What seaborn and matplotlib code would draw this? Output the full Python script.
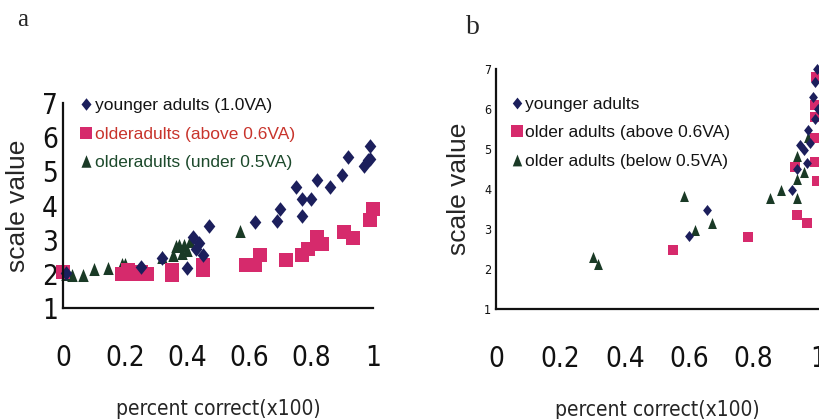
import pandas as pd
import matplotlib.pyplot as plt
import seaborn as sns
from matplotlib import font_manager
from matplotlib.font_manager import FontProperties
from matplotlib.lines import Line2D

# panel a
a_young_x = [0.01, 0.25, 0.32, 0.40, 0.42, 0.43, 0.44, 0.45, 0.47, 0.62, 0.69, 0.70,
             0.75, 0.77, 0.77, 0.80, 0.82, 0.86, 0.90, 0.92, 0.97, 0.985, 0.99, 0.99]
a_young_y = [2.03, 2.2, 2.45, 2.17, 3.08, 2.72, 2.89, 2.55, 3.41, 3.52, 3.55, 3.9,
             4.55, 4.2, 3.7, 4.2, 4.74, 4.55, 4.9, 5.42, 5.15, 5.33, 5.75, 5.37]
a_hi_x = [0.0, 0.19, 0.21, 0.23, 0.25, 0.27, 0.35, 0.35, 0.45, 0.45, 0.59, 0.62, 0.635,
          0.72, 0.77, 0.79, 0.82, 0.835, 0.905, 0.935, 0.99, 1.0]
a_hi_y = [2.05, 2.0, 2.1, 2.0, 2.05, 2.0, 1.98, 2.12, 2.12, 2.27, 2.25, 2.25, 2.55,
          2.4, 2.55, 2.72, 3.08, 2.86, 3.23, 3.04, 3.57, 3.9]
a_lo_x = [0.01, 0.03, 0.065, 0.10, 0.145, 0.19, 0.20, 0.32, 0.355, 0.365, 0.375,
          0.385, 0.39, 0.40, 0.41, 0.57]
a_lo_y = [2.0, 1.98, 1.98, 2.15, 2.17, 2.3, 2.3, 2.5, 2.55, 2.8, 2.85, 2.6, 2.85,
          2.7, 2.95, 3.25]

# panel b
b_young_x = [0.60, 0.655, 0.918, 0.934, 0.944, 0.955, 0.965, 0.97, 0.975, 0.985,
             0.99, 0.99, 0.996, 0.999]
b_young_y = [2.82, 3.47, 3.98, 4.5, 5.1, 4.98, 4.64, 5.48, 5.15, 6.3, 5.75, 6.68,
             7.0, 6.0]
b_hi_x = [0.55, 0.784, 0.934, 0.967, 0.93, 0.99, 0.996, 0.99, 0.99, 0.995, 0.99]
b_hi_y = [2.47, 2.81, 3.35, 3.16, 4.56, 4.68, 4.2, 5.27, 6.1, 6.8, 5.8]
b_lo_x = [0.30, 0.318, 0.585, 0.618, 0.67, 0.851, 0.884, 0.934, 0.936, 0.934,
          0.955, 0.97]
b_lo_y = [2.3, 2.13, 3.83, 2.98, 3.16, 3.78, 3.97, 3.78, 4.82, 4.25, 4.43, 5.3]

groups_a = ['younger adults (1.0VA)', 'olderadults (above 0.6VA)', 'olderadults (under 0.5VA)']
groups_b = ['younger adults', 'older adults (above 0.6VA)', 'older adults (below 0.5VA)']
text_colors_a = ['#141414', '#c8342c', '#1d4a2c']
text_colors_b = ['#141414', '#141414', '#141414']

x_ticks = [0, 0.2, 0.4, 0.6, 0.8, 1]
x_ticklabels = ['0', '0.2', '0.4', '0.6', '0.8', '1']
y_ticks = [1, 2, 3, 4, 5, 6, 7]

colors = ['#1c1f5c', '#d62a6c', '#1a3a26']
diamond = [(0, 1), (0.8, 0), (0, -1), (-0.8, 0), (0, 1)]
triangle = [(0, 1), (0.8, -1), (-0.8, -1), (0, 1)]
markers = [diamond, 's', triangle]

sns.set_style('white')
plt.rcParams['font.family'] = ['Liberation Sans', 'DejaVu Sans']

# the scan uses a tall condensed face for the numbers; take one if installed
cond_file = None
for f in font_manager.fontManager.ttflist:
    squeezed = ('Narrow' in f.name or 'Condensed' in f.name
                or str(f.stretch) in ('condensed', 'semi-condensed', 'extra-condensed'))
    if squeezed and f.style == 'normal' and f.weight in (400, 'normal', 'regular'):
        cond_file = f.fname
        break


def cond(size):
    if cond_file:
        return FontProperties(fname=cond_file, size=size)
    return FontProperties(family='DejaVu Sans', size=size * 0.8)


def make_df(groups, *cols):
    parts = []
    for g, xs, ys in zip(groups, cols[0::2], cols[1::2]):
        parts.append(pd.DataFrame({'x': xs, 'y': ys, 'group': g}))
    return pd.concat(parts, ignore_index=True)


df_a = make_df(groups_a, a_young_x, a_young_y, a_hi_x, a_hi_y, a_lo_x, a_lo_y)
df_b = make_df(groups_b, b_young_x, b_young_y, b_hi_x, b_hi_y, b_lo_x, b_lo_y)

fig = plt.figure(figsize=(8.19, 4.19), dpi=100)
ax_a = fig.add_axes([63 / 819, 111 / 419, 310 / 819, 205 / 419])
ax_b = fig.add_axes([496 / 819, 110 / 419, 322 / 819, 240 / 419])


def draw(ax, df, groups, text_colors, sizes, ytick_size, leg_anchor, leg_ms):
    # draw later groups first so diamonds sit on top, like the scan
    for g, c, m, s in list(zip(groups, colors, markers, sizes))[::-1]:
        sub = df[df['group'] == g]
        sns.scatterplot(data=sub, x='x', y='y', color=c, marker=m, s=s,
                        linewidth=0, ax=ax, clip_on=False, legend=False)
    ax.set_xlim(0, 1)
    ax.set_ylim(1, 7)
    ax.set_xticks(x_ticks)
    ax.set_xticklabels(x_ticklabels, fontproperties=cond(20))
    ax.set_yticks(y_ticks)
    ax.set_yticklabels([str(t) for t in y_ticks], fontproperties=cond(ytick_size))
    ax.tick_params(axis='x', direction='in', length=6, width=1.3, pad=26, colors='#111111')
    ax.tick_params(axis='y', direction='in', length=4, width=1.3, colors='#111111')
    for side in ['top', 'right']:
        ax.spines[side].set_visible(False)
    for side in ['left', 'bottom']:
        ax.spines[side].set_linewidth(1.6)
        ax.spines[side].set_color('#111111')
    ax.set_xlabel('percent correct(x100)', fontproperties=cond(15), labelpad=19)
    ax.set_ylabel('scale value', fontsize=19, labelpad=9)

    handles = [Line2D([], [], linestyle='none', marker=m, color=c, markersize=leg_ms,
                      markeredgewidth=0) for c, m in zip(colors, markers)]
    leg = ax.legend(handles, groups, loc='upper left', bbox_to_anchor=leg_anchor,
                    frameon=False, fontsize=12.5, handlelength=0.7, handletextpad=0.15,
                    labelspacing=0.78, borderpad=0, borderaxespad=0)
    for t, c in zip(leg.get_texts(), text_colors):
        t.set_color(c)


draw(ax_a, df_a, groups_a, text_colors_a, [110, 88, 88], 20, (0.055, 1.025), 9)
draw(ax_b, df_b, groups_b, text_colors_b, [63, 52, 63], 9, (0.045, 0.885), 8.5)

fig.text(23 / 819, 1 - 20 / 419, 'a', fontfamily='Liberation Serif', fontsize=18,
         ha='center', va='center')
fig.text(473 / 819, 1 - 27 / 419, 'b', fontfamily='Liberation Serif', fontsize=20,
         ha='center', va='center')

fig.savefig('out.png', dpi=100, facecolor='white')
